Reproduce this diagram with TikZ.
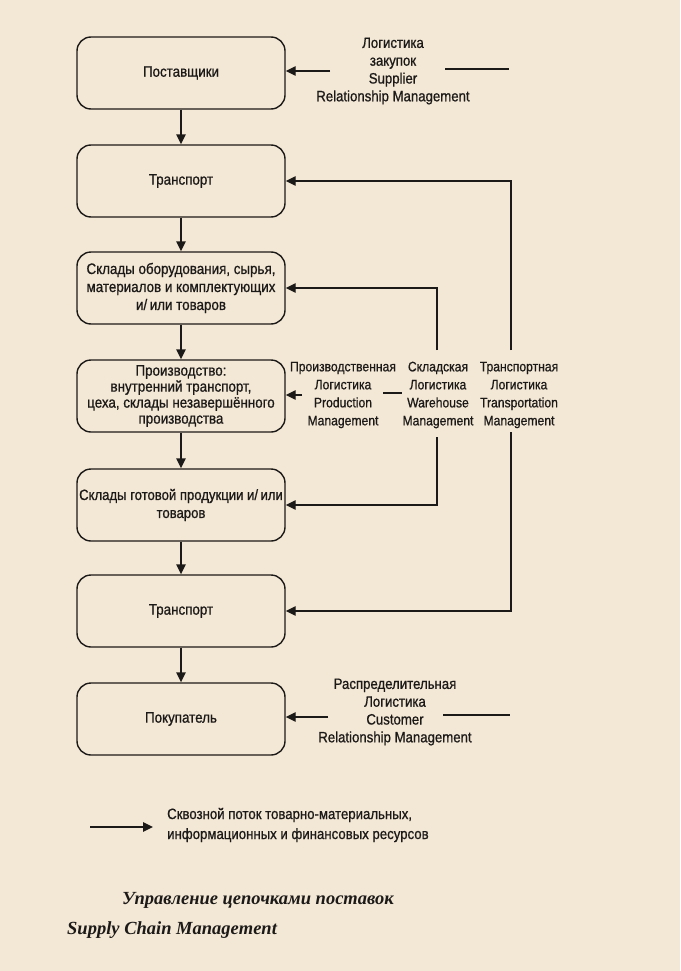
\documentclass[tikz,border=0pt]{standalone}
\usepackage{fontspec}
\setmainfont{Liberation Sans}[FakeStretch=0.88,FakeBold=0.8]
\newfontfamily\titlefont{Liberation Serif}
\usetikzlibrary{arrows.meta}
\definecolor{paper}{RGB}{243,231,213}
\definecolor{ink}{RGB}{28,26,24}

\begin{document}
\begin{tikzpicture}[x=1pt,y=-1pt,
  blok/.style={draw=ink,line width=1.4pt,rounded corners=14pt,minimum width=208pt,
    minimum height=72pt,inner sep=1pt,align=center,text=ink,
    font=\fontsize{15.2}{18}\selectfont},
  lbl/.style={align=center,inner sep=1pt,text=ink,font=\fontsize{15}{17.8}\selectfont},
  flow/.style={draw=ink,line width=1.4pt,-{Triangle[length=10pt,width=9.5pt]}},
  ln/.style={draw=ink,line width=1.3pt}]
\fill[paper] (0,0) rectangle (680,971);
\useasboundingbox (0,0) rectangle (680,971);

% chain of boxes
\node[blok] (post) at (181,73) {Поставщики};
\node[blok] (trans1) at (181,181) {Транспорт};
\node[blok] (sklad1) at (181,288) {Склады оборудования, сырья,\\материалов и комплектующих\\и/\,или товаров};
\node[blok,font=\fontsize{15.2}{16}\selectfont] (proizv) at (181,396) {Производство:\\внутренний транспорт,\\цеха, склады незавершённого\\производства};
\node[blok,inner xsep=0pt,font=\fontsize{14.9}{18}\selectfont] (sklad2) at (181,505) {Склады готовой продукции и/\,или\\товаров};
\node[blok] (trans2) at (181,611) {Транспорт};
\node[blok] (pokup) at (181,719) {Покупатель};

\draw[flow] (post) -- (trans1);
\draw[flow] (trans1) -- (sklad1);
\draw[flow] (sklad1) -- (proizv);
\draw[flow] (proizv) -- (sklad2);
\draw[flow] (sklad2) -- (trans2);
\draw[flow] (trans2) -- (pokup);

% logistics labels
\node[lbl] (supl) at (393,71) {Логистика\\закупок\\Supplier\\Relationship Management};
\node[lbl,font=\fontsize{13.8}{18}\selectfont] (prodl) at (343,395) {Производственная\\Логистика\\Production\\Management};
\node[lbl,font=\fontsize{13.8}{18}\selectfont] (skladl) at (438,395) {Складская\\Логистика\\Warehouse\\Management};
\node[lbl,font=\fontsize{13.8}{18}\selectfont] (transl) at (519,395) {Транспортная\\Логистика\\Transportation\\Management};
\node[lbl] (custl) at (395,712) {Распределительная\\Логистика\\Customer\\Relationship Management};

\coordinate (s1) at (330,71);
\coordinate (s2) at (445,69);
\coordinate (s3) at (509,69);
\coordinate (p1) at (302,395);
\coordinate (p2) at (383,393);
\coordinate (p3) at (402,393);
\coordinate (w1) at (437,350);
\coordinate (w2) at (437,437);
\coordinate (t1) at (511,350);
\coordinate (t2) at (511,432);
\coordinate (c1) at (328,717);
\coordinate (c2) at (443,715);
\coordinate (c3) at (510,715);

\draw[flow] (s1) -- (s1 -| post.east);
\draw[ln] (s2) -- (s3);
\draw[flow] (p1) -- (p1 -| proizv.east);
\draw[ln] (p2) -- (p3);
\draw[flow] (w1) |- (sklad1.east);
\draw[flow] (w2) |- (sklad2.east);
\draw[flow] (t1) |- (trans1.east);
\draw[flow] (t2) |- (trans2.east);
\draw[flow] (c1) -- (c1 -| pokup.east);
\draw[ln] (c2) -- (c3);

% legend
\coordinate (leg1) at (90,827);
\coordinate (leg2) at (153,827);
\draw[flow] (leg1) -- (leg2);
\node[lbl,anchor=west,align=left,font=\fontsize{15}{20}\selectfont] (legt) at (166,825) {Сквозной поток товарно-материальных,\\информационных и финансовых ресурсов};

% caption
\node[anchor=west,inner sep=0pt,text=ink,font=\titlefont\bfseries\itshape\fontsize{18.5}{20}\selectfont] (cap1) at (122,900) {Управление цепочками поставок};
\node[anchor=west,inner sep=0pt,text=ink,font=\titlefont\bfseries\itshape\fontsize{18.5}{20}\selectfont] (cap2) at (67,930) {Supply Chain Management};
\end{tikzpicture}
\end{document}
